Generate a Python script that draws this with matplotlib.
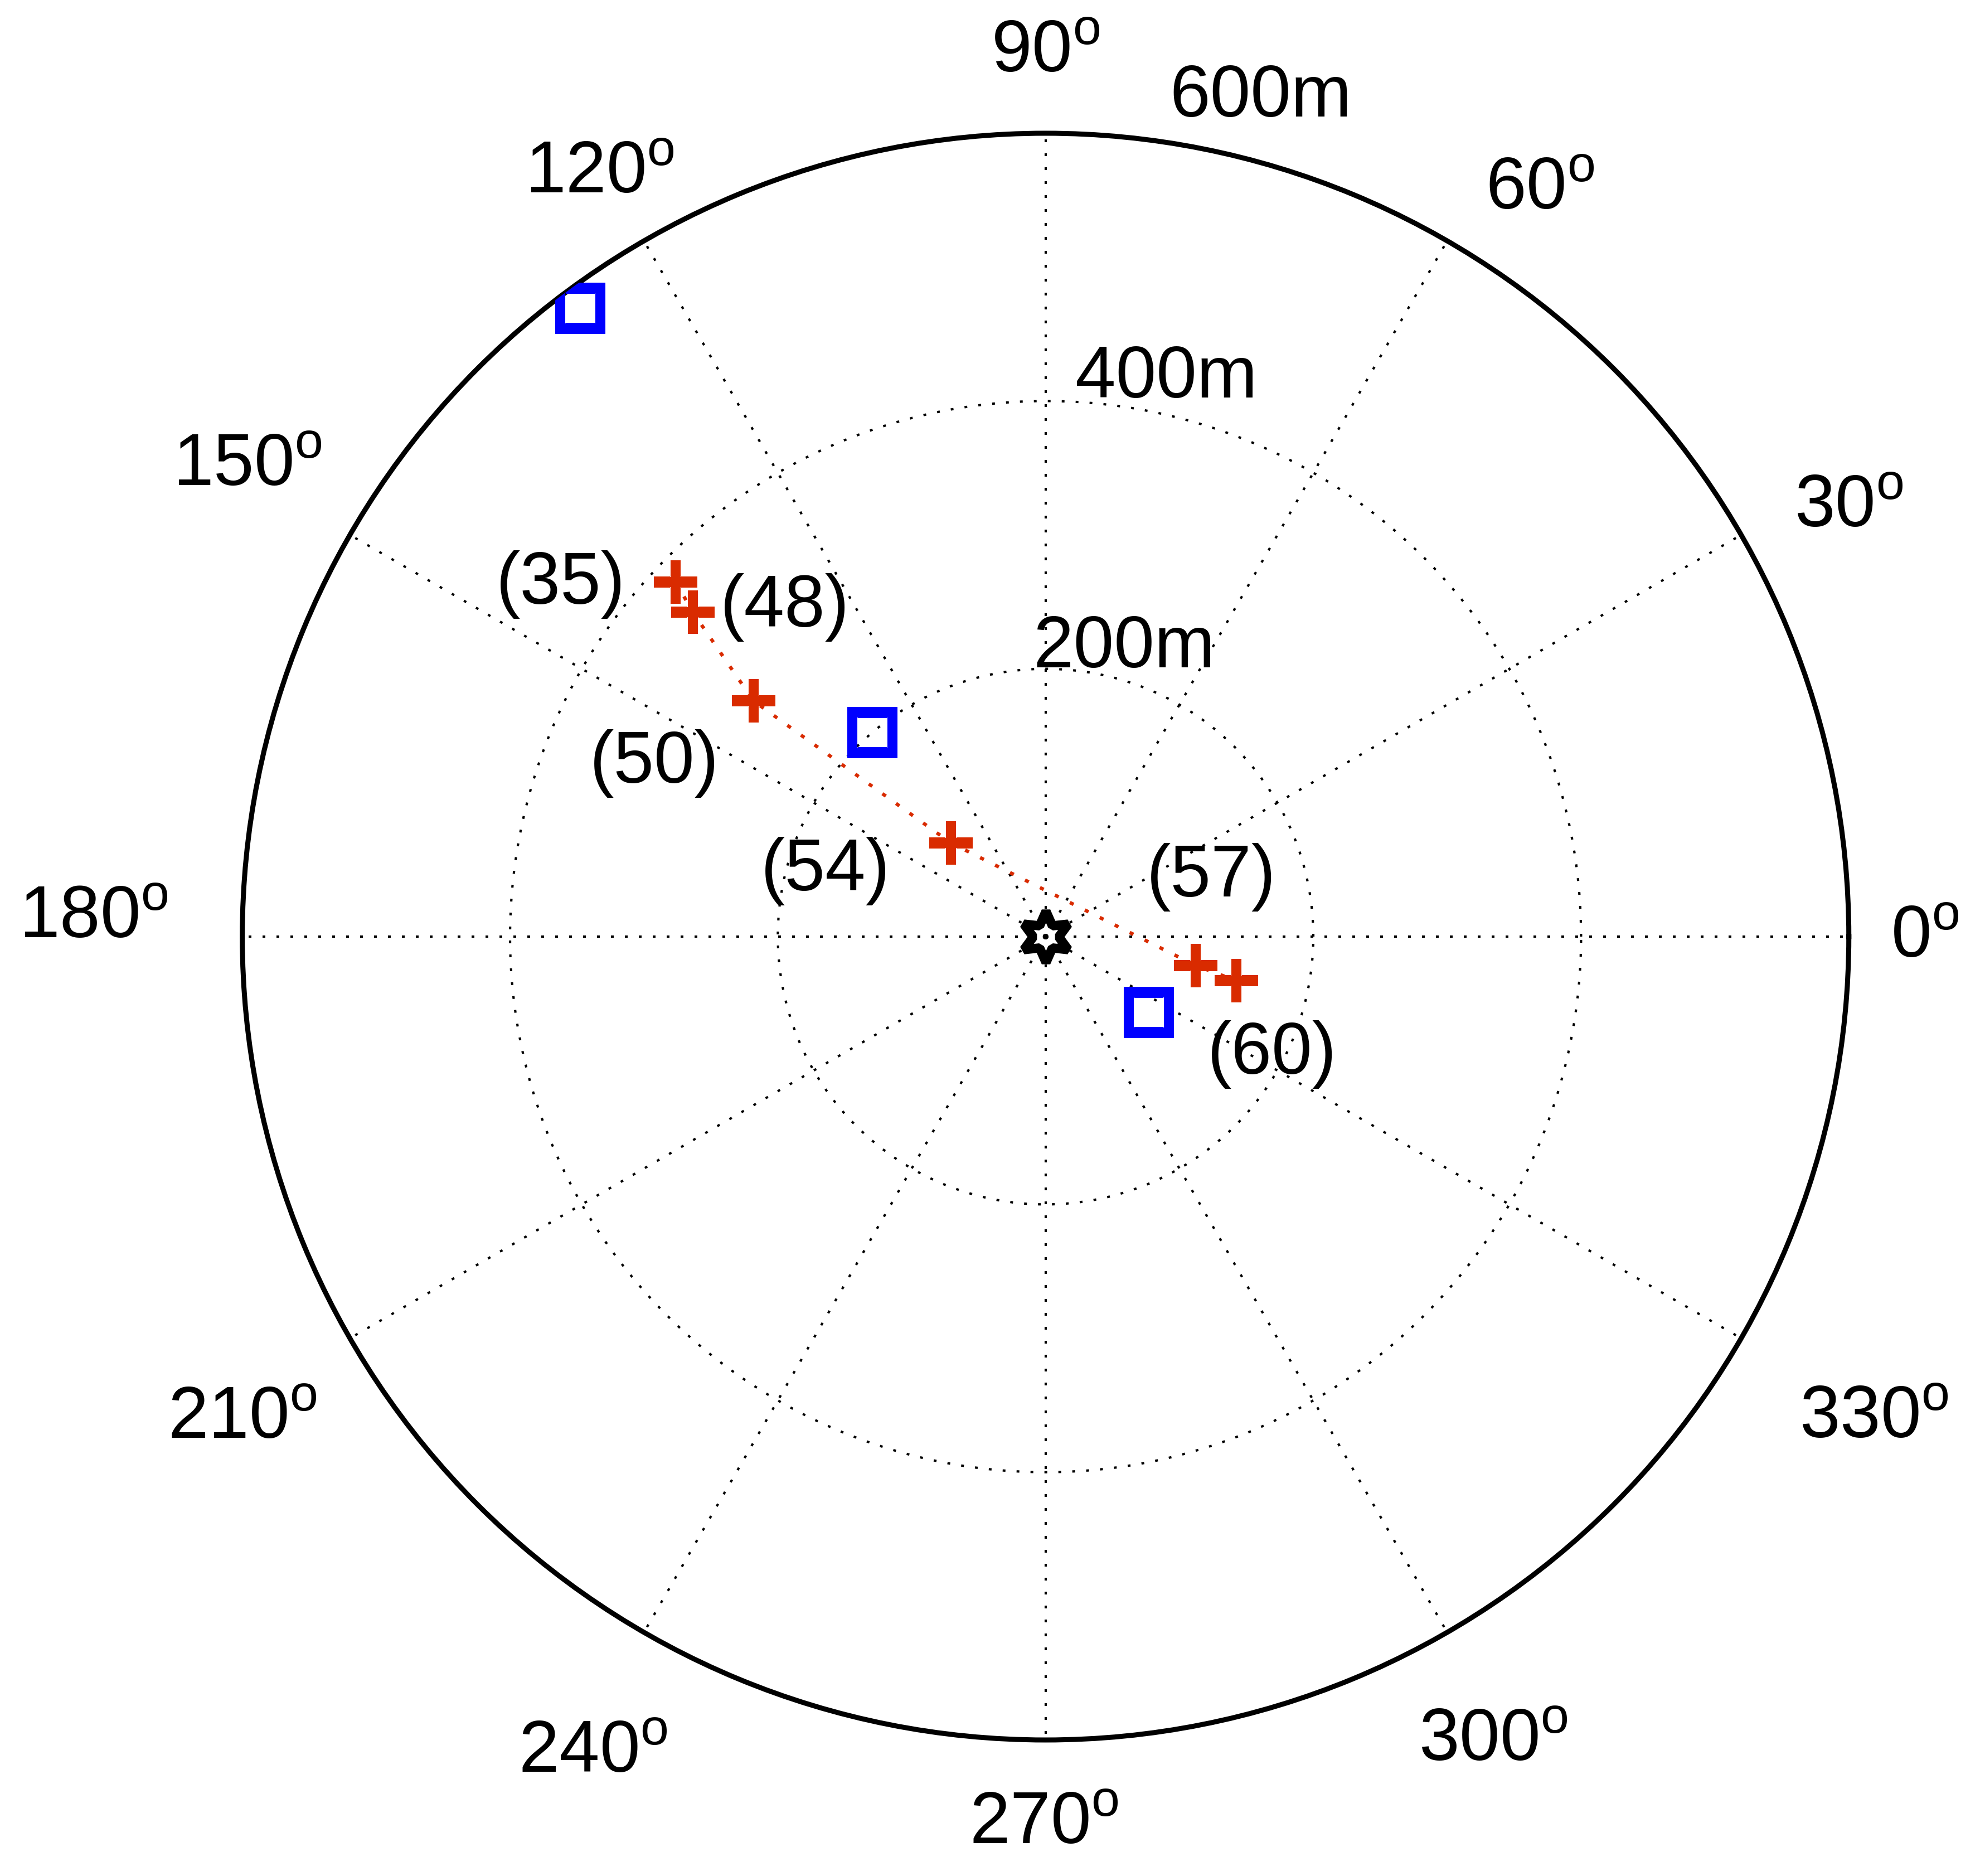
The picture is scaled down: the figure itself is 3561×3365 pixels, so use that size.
import numpy as np
import matplotlib
matplotlib.use("Agg")
import matplotlib.pyplot as plt

plt.rcParams['font.family'] = ['Liberation Sans', 'DejaVu Sans']
plt.rcParams['mathtext.fontset'] = 'custom'
plt.rcParams['mathtext.rm'] = 'Liberation Sans'
plt.rcParams['mathtext.it'] = 'Liberation Sans:italic'

# ---- data (angle in degrees, range in metres) ----
track_theta = [136.2, 137.4, 141.1, 135.3, 349.1, 347.0]
track_r = [382.7, 358.0, 280.3, 99.4, 114.2, 146.1]
track_labels = ['(35)', '(48)', '(50)', '(54)', '(57)', '(60)']

square_theta = [126.5, 130.3, 323.8]
square_r = [584.0, 199.9, 95.6]

origin_theta = [0.0]
origin_r = [0.0]

angle_ticks = [0, 30, 60, 90, 120, 150, 180, 210, 240, 270, 300, 330]
range_ticks = [200, 400, 600]
range_labels = ['200m', '400m', '600m']
r_max = 600

# ---- text placement (theta deg, r) ----
angle_label_pos = {0: (359.9, 657), 30: (28.1, 680), 60: (56.5, 669), 90: (90.0, 660),
                   120: (120.3, 660), 150: (149.5, 692), 180: (178.9, 711),
                   210: (211.0, 700), 240: (241.0, 697), 270: (269.9, 663),
                   300: (299.1, 688), 330: (329.8, 716)}
range_label_pos = [(74.8, 223.4), (77.8, 426.5), (75.6, 647)]
track_label_pos = [(144.0, 447.5), (128.4, 313.6), (156.1, 319.6), (163.4, 171.7),
                   (19.7, 131.6), (332.5, 190.7)]

W, H, DPI = 3561, 3365, 100
fig = plt.figure(figsize=(W / DPI, H / DPI), dpi=DPI)
cx, cy, R = 1875.7, 1680.0, 1441.0
ax = fig.add_axes([(cx - R) / W, (H - cy - R) / H, 2 * R / W, 2 * R / H], projection='polar')

ax.set_ylim(0, r_max)
ax.set_thetagrids(angle_ticks, labels=[''] * len(angle_ticks))
ax.set_rgrids(range_ticks[:-1], labels=[''] * (len(range_ticks) - 1))
ax.tick_params(length=0)
ax.grid(True, color='black', linestyle=(0, (1.2, 4.8)), linewidth=3.0)
ax.set_axisbelow(True)
ax.spines['polar'].set_linewidth(6.5)
ax.spines['polar'].set_color('black')

red = '#D92B00'
blue = '#0000FF'
fs = 94

th = np.deg2rad(track_theta)
ax.plot(th, track_r, color=red, linestyle=(0, (1.2, 3.6)), linewidth=4.5, zorder=3)
ax.plot(th, track_r, linestyle='none', marker='+', markersize=56, markeredgewidth=13,
        color=red, zorder=4)
ax.plot(np.deg2rad(square_theta), square_r, linestyle='none', marker='s', markersize=52,
        markeredgewidth=13, markerfacecolor='none', markeredgecolor=blue, zorder=4)
ax.plot(np.deg2rad(origin_theta), origin_r, linestyle='none', marker=(6, 1, 0), markersize=66,
        markeredgewidth=12, markerfacecolor='none', markeredgecolor='black', zorder=5,
        clip_on=False)

for a in angle_ticks:
    t, r = angle_label_pos[a]
    ax.text(np.deg2rad(t), r, r'%d$^{\mathrm{o}}$' % a, fontsize=fs, ha='center', va='center',
            clip_on=False)

for (t, r), lab in zip(range_label_pos, range_labels):
    ax.text(np.deg2rad(t), r, lab, fontsize=fs, ha='center', va='center', clip_on=False)

for (t, r), lab in zip(track_label_pos, track_labels):
    ax.text(np.deg2rad(t), r, lab, fontsize=fs, ha='center', va='center', clip_on=False)

fig.savefig('out.png', dpi=DPI)
